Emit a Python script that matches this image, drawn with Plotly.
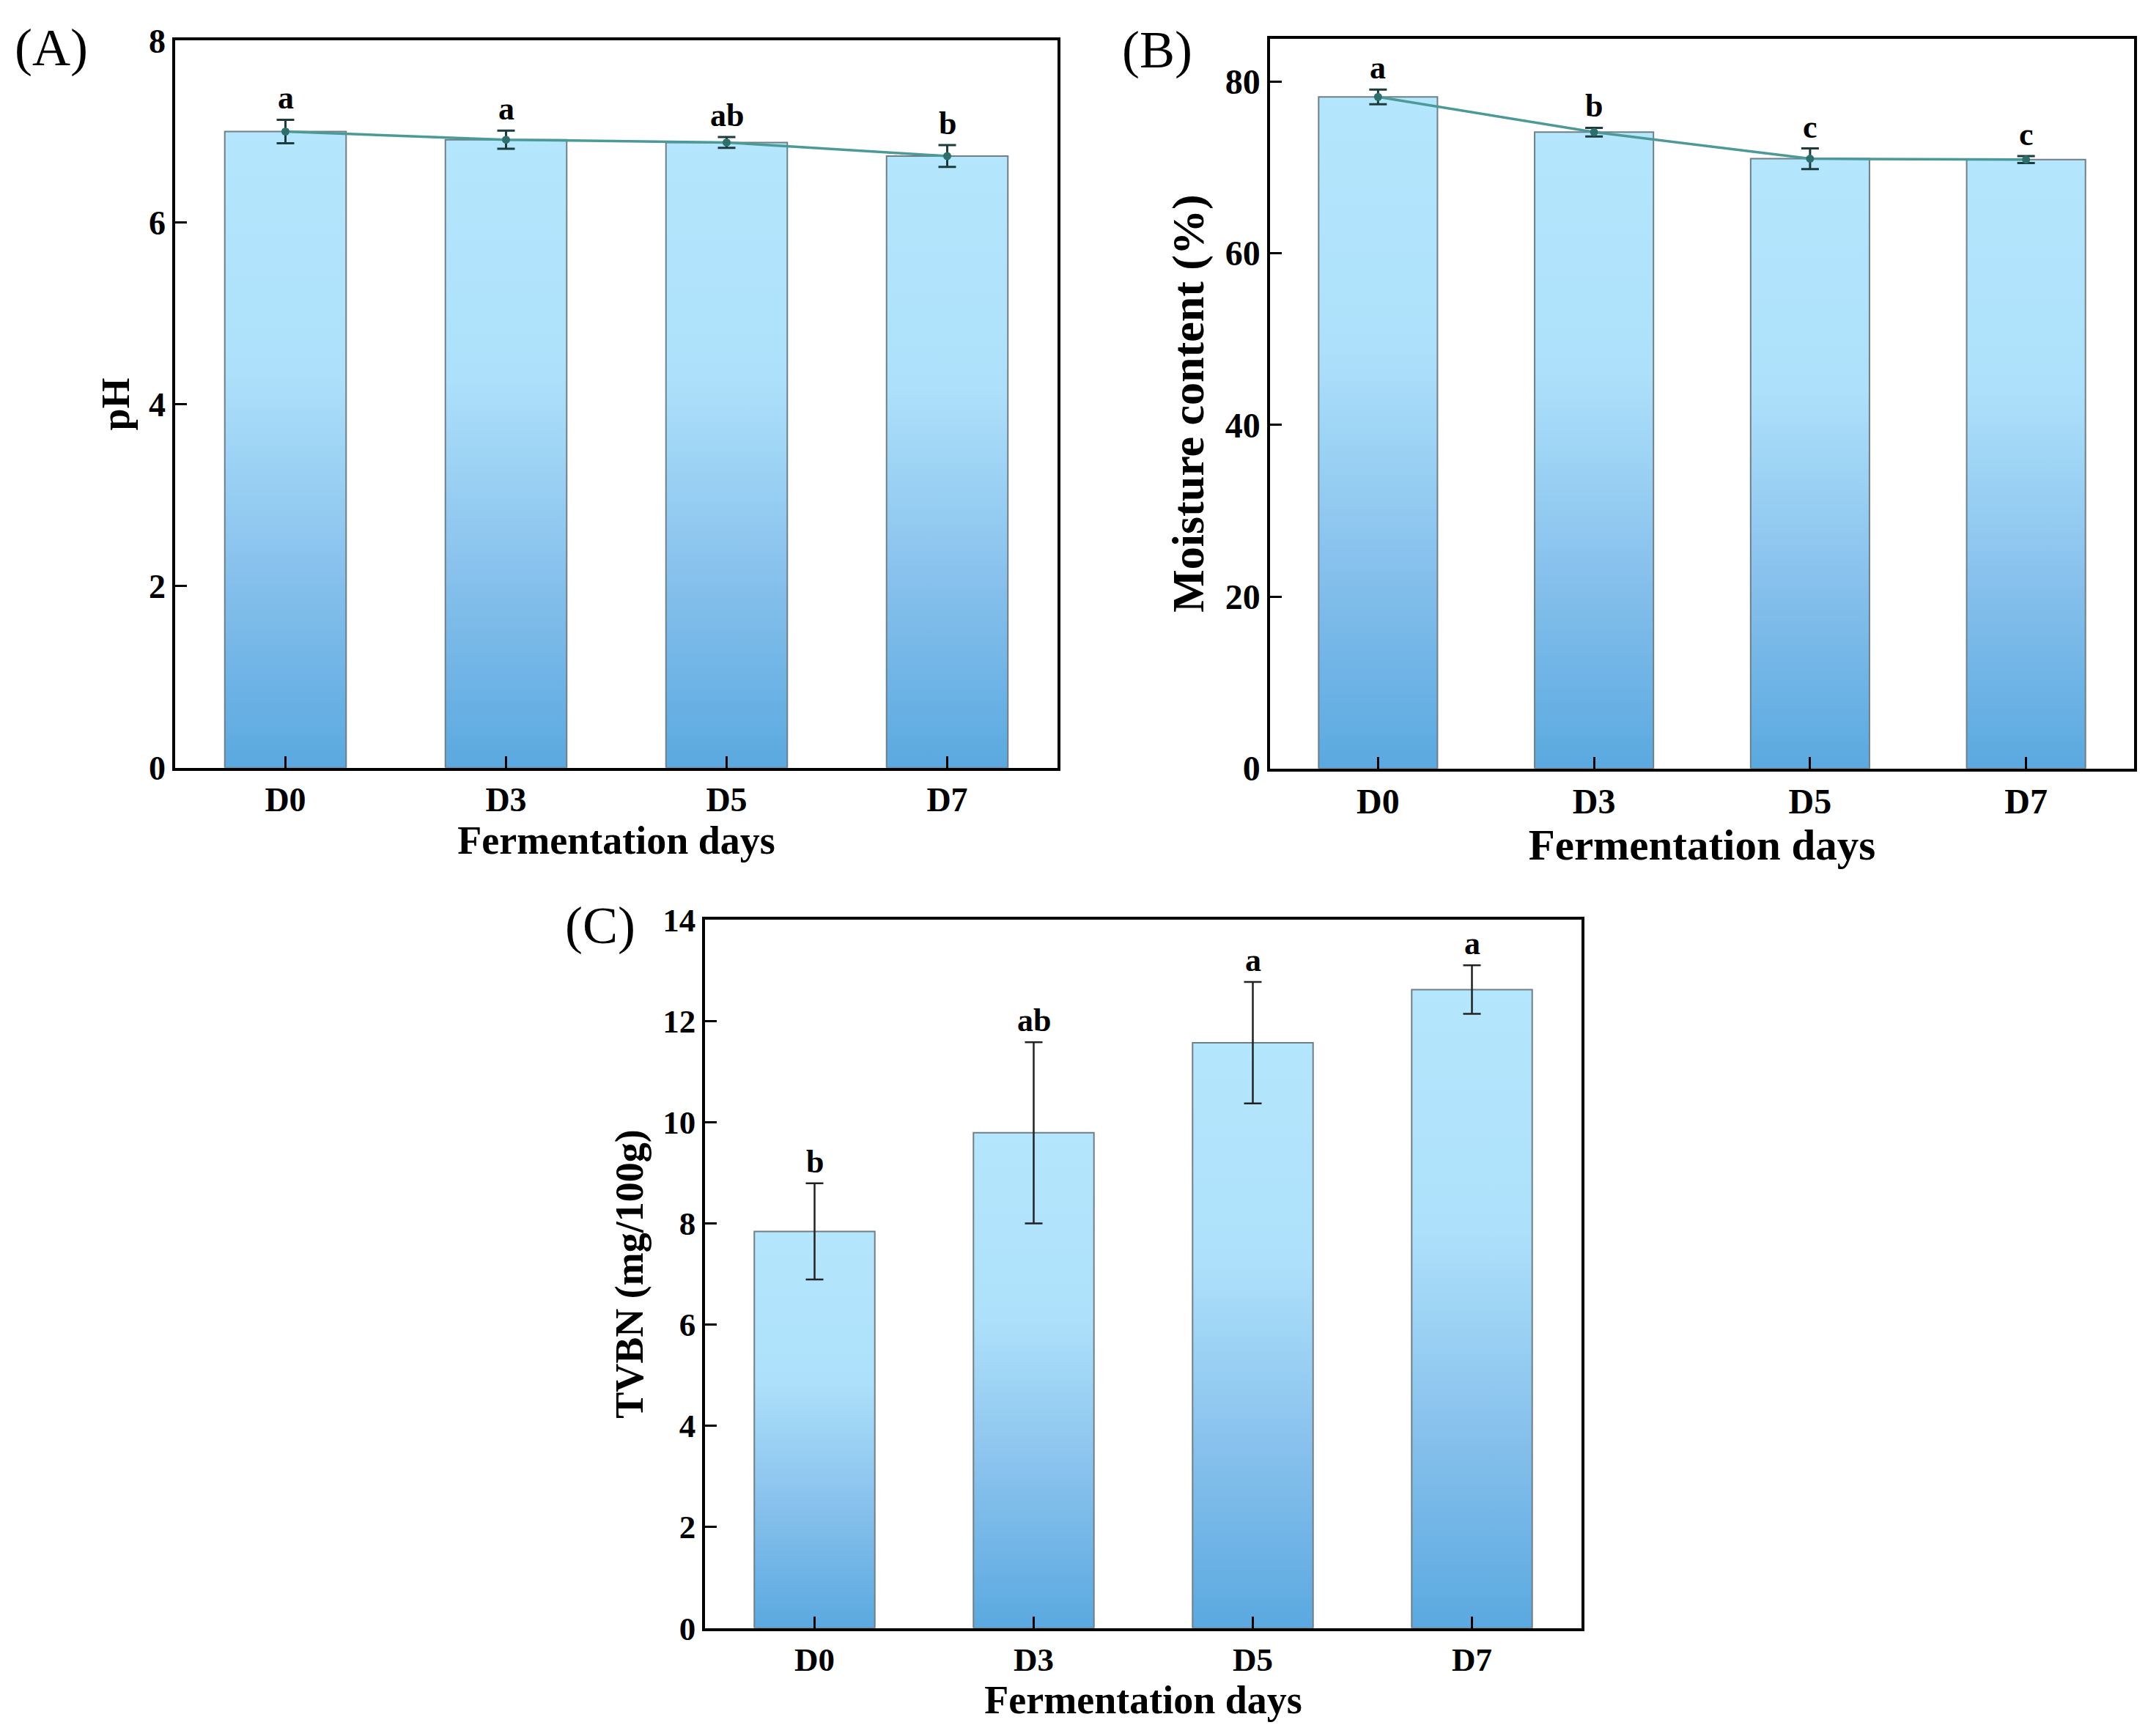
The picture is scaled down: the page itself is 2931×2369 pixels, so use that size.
import plotly.graph_objects as go

# data
days = ['D0', 'D3', 'D5', 'D7']

ph = [7.00, 6.91, 6.88, 6.73]
ph_err = [0.13, 0.10, 0.06, 0.12]
ph_letters = ['a', 'a', 'ab', 'b']

moisture = [78.2, 74.1, 71.0, 70.9]
moisture_err = [0.85, 0.5, 1.2, 0.4]
moisture_letters = ['a', 'b', 'c', 'c']

tvbn = [7.84, 9.79, 11.57, 12.62]
tvbn_err = [0.95, 1.79, 1.2, 0.48]
tvbn_letters = ['b', 'ab', 'a', 'a']

W, H = 2931, 2369
FONT = 'Liberation Serif'
bar_half = 0.275
grad = [[0, '#5aa9e0'], [0.3, '#86c0ec'], [0.62, '#ade0fa'], [1, '#b4e7fd']]
line_col = '#4b9a98'
err_col = '#1d3b3b'

fig = go.Figure()


def px_x(a, b):
    return [a / W, b / W]


def px_y(top, bottom):
    return [1 - bottom / H, 1 - top / H]


panels = [
    # values, errors, letters, y title, yrange, dtick, x dom, y dom, line?, tick size, title size
    (ph, ph_err, ph_letters, 'pH', [0, 8], 2, px_x(231, 1435), px_y(24, 1038), True, 46, 54),
    (moisture, moisture_err, moisture_letters, 'Moisture content (%)', [0, 85], 20,
     px_x(1725, 2904), px_y(21, 1039), True, 48, 59),
    (tvbn, tvbn_err, tvbn_letters, 'TVBN (mg/100g)', [0, 14], 2, px_x(954, 2150), px_y(1250, 2238), False, 45, 54),
]

for k, (vals, errs, letters, ytitle, yr, dt, xd, yd, show_line, tsize, ttsize) in enumerate(panels):
    n = k + 1
    xa = 'x' if n == 1 else f'x{n}'
    ya = 'y' if n == 1 else f'y{n}'
    xpos = list(range(len(days)))

    # bars as gradient-filled polygons
    for i, v in enumerate(vals):
        fig.add_trace(go.Scatter(
            x=[i - bar_half, i - bar_half, i + bar_half, i + bar_half, i - bar_half],
            y=[0, v, v, 0, 0],
            mode='lines', fill='toself',
            fillgradient=dict(type='vertical', colorscale=grad),
            line=dict(color='#6f7f88', width=2),
            xaxis=xa, yaxis=ya, showlegend=False, hoverinfo='skip'))

    fig.add_trace(go.Scatter(
        x=xpos, y=vals,
        mode='lines+markers' if show_line else 'markers',
        line=dict(color=line_col, width=3.5),
        marker=dict(size=11 if show_line else 0.1, color='#2d6f6d'),
        error_y=dict(type='data', array=errs, color=err_col if show_line else '#222222',
                     thickness=3 if show_line else 2.5, width=12),
        xaxis=xa, yaxis=ya, showlegend=False, cliponaxis=False))

    for i, (v, e, t) in enumerate(zip(vals, errs, letters)):
        fig.add_annotation(x=i, y=v + e, text=t, showarrow=False, xref=xa, yref=ya,
                           yanchor='bottom', yshift=3,
                           font=dict(family=FONT, size=44, color='black', weight='bold'))

    axis_common = dict(showline=True, linewidth=3.5, linecolor='black', mirror=True,
                       ticks='inside', ticklen=16, tickwidth=3, tickcolor='black',
                       showgrid=False, zeroline=False,
                       tickfont=dict(family=FONT, size=tsize, color='black', weight='bold'))
    fig.update_layout({
        f'xaxis{"" if n == 1 else n}': dict(
            domain=xd, anchor=ya, range=[-0.5, len(days) - 0.5],
            tickmode='array', tickvals=xpos, ticktext=days,
            title=dict(text='Fermentation days', standoff=8,
                       font=dict(family=FONT, size=ttsize, color='black', weight='bold')),
            **axis_common),
        f'yaxis{"" if n == 1 else n}': dict(
            domain=yd, anchor=xa, range=yr, dtick=dt,
            title=dict(text=ytitle, standoff=10,
                       font=dict(family=FONT, size=ttsize + (3 if n == 2 else 0), color='black', weight='bold')),
            **axis_common),
    })

for lab, x, y in [('(A)', 62, 34), ('(B)', 1571, 37), ('(C)', 811, 1258)]:
    fig.add_annotation(x=x / W, y=1 - y / H, xref='paper', yref='paper', text=lab,
                       showarrow=False, xanchor='center', yanchor='middle',
                       font=dict(family=FONT, size=72, color='black'))

fig.update_layout(width=W, height=H, margin=dict(l=0, r=0, t=0, b=0),
                  paper_bgcolor='white', plot_bgcolor='white')

fig.write_html('out.html')
